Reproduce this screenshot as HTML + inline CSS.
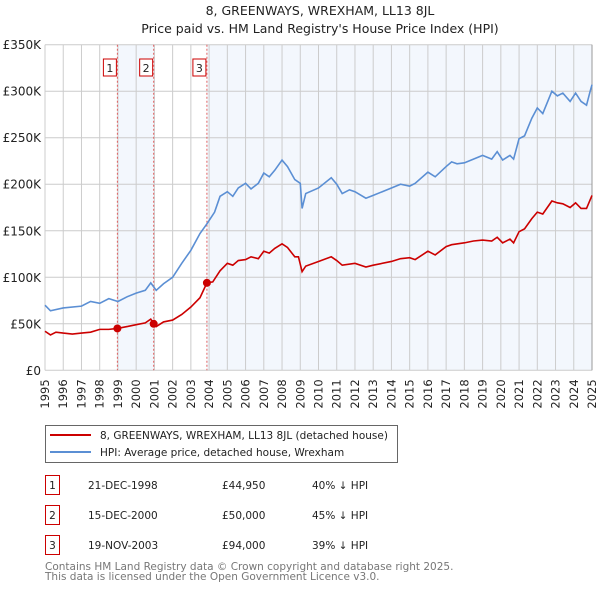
<!DOCTYPE html>
<html><head><meta charset="utf-8"><style>
body{margin:0;background:#fff;font-family:"DejaVu Sans","Liberation Sans",sans-serif;}
svg{display:block}
</style></head><body>
<svg id="c" width="600" height="590" xmlns="http://www.w3.org/2000/svg" font-family="DejaVu Sans, Liberation Sans, sans-serif">
<text x="320" y="15" text-anchor="middle" font-size="12.5" fill="#222">8, GREENWAYS, WREXHAM, LL13 8JL</text>
<text x="320" y="33" text-anchor="middle" font-size="12.5" fill="#222">Price paid vs. HM Land Registry's House Price Index (HPI)</text>
<g id="plot"></g>
<g>
<rect x="45.5" y="425.5" width="352" height="37" fill="#fff" stroke="#666"/>
<line x1="50" y1="435" x2="91" y2="435" stroke="#cc0000" stroke-width="2"/>
<text x="100" y="439" font-size="10.5" fill="#222">8, GREENWAYS, WREXHAM, LL13 8JL (detached house)</text>
<line x1="50" y1="452" x2="91" y2="452" stroke="#5b8fd4" stroke-width="2"/>
<text x="100" y="456" font-size="10.5" fill="#222">HPI: Average price, detached house, Wrexham</text>
</g>
<g font-size="10.5" fill="#222">
<rect x="45.5" y="475.5" width="14" height="19" fill="#fff" stroke="#cc0000"/><text x="52.5" y="489" text-anchor="middle">1</text>
<text x="88" y="489">21-DEC-1998</text><text x="222" y="489">£44,950</text><text x="312" y="489">40% ↓ HPI</text>
<rect x="45.5" y="505.5" width="14" height="19" fill="#fff" stroke="#cc0000"/><text x="52.5" y="519" text-anchor="middle">2</text>
<text x="88" y="519">15-DEC-2000</text><text x="222" y="519">£50,000</text><text x="312" y="519">45% ↓ HPI</text>
<rect x="45.5" y="535.5" width="14" height="19" fill="#fff" stroke="#cc0000"/><text x="52.5" y="549" text-anchor="middle">3</text>
<text x="88" y="549">19-NOV-2003</text><text x="222" y="549">£94,000</text><text x="312" y="549">39% ↓ HPI</text>
</g>
<text x="45" y="570" font-size="10.5" fill="#777">Contains HM Land Registry data © Crown copyright and database right 2025.</text>
<text x="45" y="580" font-size="10.5" fill="#777">This data is licensed under the Open Government Licence v3.0.</text>
</svg>
<script>
const hpiYears=[1995,1995.3,1996,1997,1997.5,1998,1998.5,1999,1999.5,2000,2000.5,2000.8,2001.1,2001.5,2002,2002.5,2003,2003.5,2003.9,2004.3,2004.6,2005,2005.3,2005.6,2006,2006.3,2006.7,2007,2007.3,2007.6,2008,2008.3,2008.7,2009,2009.1,2009.3,2010,2010.7,2011,2011.3,2011.7,2012,2012.6,2013,2014,2014.5,2015,2015.3,2016,2016.4,2017,2017.3,2017.6,2018,2018.5,2019,2019.5,2019.8,2020.1,2020.5,2020.7,2021,2021.3,2021.7,2022,2022.3,2022.8,2023.1,2023.4,2023.8,2024.1,2024.4,2024.7,2024.9,2025];
const hpiValues=[70,64,67,69,74,72,77,74,79,83,86,94,86,93,100,115,129,147,158,170,187,192,187,196,201,195,201,212,208,215,226,219,205,201,174,190,196,207,200,190,194,192,185,188,196,200,198,201,213,208,219,224,222,223,227,231,227,235,226,231,227,249,252,271,282,276,300,295,298,289,298,289,285,300,307];
const paidYears=[1995,1995.3,1995.6,1996,1996.5,1997,1997.5,1998,1998.5,1998.97,1999.5,2000,2000.5,2000.8,2000.96,2001.1,2001.5,2002,2002.5,2003,2003.5,2003.88,2004.2,2004.6,2005,2005.3,2005.6,2006,2006.3,2006.7,2007,2007.3,2007.6,2008,2008.3,2008.7,2008.9,2009.1,2009.3,2010,2010.7,2011,2011.3,2012,2012.6,2013,2014,2014.5,2015,2015.3,2016,2016.4,2017,2017.3,2018,2018.5,2019,2019.5,2019.8,2020.1,2020.5,2020.7,2021,2021.3,2021.7,2022,2022.3,2022.8,2023.1,2023.4,2023.8,2024.1,2024.4,2024.7,2025];
const paidValues=[42,38,41,40,39,40,41,44,44,45,47,49,51,55,50,47,52,54,60,68,78,94,95,107,115,113,118,119,122,120,128,126,131,136,132,122,122,106,112,117,122,118,113,115,111,113,117,120,121,119,128,124,133,135,137,139,140,139,143,137,141,137,149,152,163,170,168,182,180,179,175,180,174,174,188];
const saleLabels=["1","2","3"];
const saleYears=[1998.97,2000.96,2003.88];
const salePrices=[44.95,50,94];
const yTicks=[0,50,100,150,200,250,300,350];
const yTickLabels=["£0","£50K","£100K","£150K","£200K","£250K","£300K","£350K"];
const xTicks=[1995,1996,1997,1998,1999,2000,2001,2002,2003,2004,2005,2006,2007,2008,2009,2010,2011,2012,2013,2014,2015,2016,2017,2018,2019,2020,2021,2022,2023,2024,2025];

const L=45,R=592,T=44.7,B=370.3,X0=1995,X1=2025,YMAX=350;
const xs=v=>L+(v-X0)/(X1-X0)*(R-L);
const ys=v=>B-v/YMAX*(B-T);
const NS="http://www.w3.org/2000/svg";
const g=document.getElementById('plot');
function mk(t,a,p){const e=document.createElementNS(NS,t);for(const k in a)e.setAttribute(k,a[k]);(p||g).appendChild(e);return e;}

// shading
const s1=mk('rect',{x:xs(saleYears[0]),y:T,width:xs(saleYears[1])-xs(saleYears[0]),height:B-T,fill:'#eef3fc',opacity:0.7});


const s2=mk('rect',{x:xs(saleYears[2]),y:T,width:R-xs(saleYears[2]),height:B-T,fill:'#eef3fc',opacity:0.7});



xTicks.forEach(t=>{
  const l=mk('line',{x1:xs(t),y1:T,x2:xs(t),y2:B,stroke:'#cccccc','stroke-width':1});
  
  
  const tx=mk('text',{x:0,y:0,'font-size':11.5,fill:'#222','text-anchor':'end',transform:`translate(${xs(t)+4},${B+9}) rotate(-90)`});
  tx.textContent=t;
  
  
});
yTicks.forEach((t,i)=>{
  const l=mk('line',{x1:L,y1:ys(t),x2:R,y2:ys(t),stroke:'#cccccc','stroke-width':1});
  
  
  const tx=mk('text',{x:L-4,y:ys(t)+4.5,'font-size':12,fill:'#222','text-anchor':'end'});
  tx.textContent=yTickLabels[i];
  
  
});
const rb=mk('line',{x1:R,y1:T,x2:R,y2:B,stroke:'#999','stroke-width':1});



saleYears.forEach((y,i)=>{
  const l=mk('line',{x1:xs(y),y1:T,x2:xs(y),y2:B,stroke:'#e06060','stroke-width':1,'stroke-dasharray':'2,2'});
  
  
  const r=mk('rect',{x:xs(y)-14,y:59,width:13,height:17,fill:'#fff',stroke:'#cc0000'});
  
  
  const t=mk('text',{x:xs(y)-7.5,y:72,'font-size':11,fill:'#222','text-anchor':'middle'});
  t.textContent=saleLabels[i];
  
  
});

const hp=mk('polyline',{points:hpiYears.map((y,i)=>xs(y)+','+ys(hpiValues[i])).join(' '),fill:'none',stroke:'#5b8fd4','stroke-width':1.6});


const pp=mk('polyline',{points:paidYears.map((y,i)=>xs(y)+','+ys(paidValues[i])).join(' '),fill:'none',stroke:'#cc0000','stroke-width':1.6});


saleYears.forEach((y,i)=>{
  const c=mk('circle',{cx:xs(y),cy:ys(salePrices[i]),r:4,fill:'#cc0000'});
  
  
});
</script>
</body></html>
